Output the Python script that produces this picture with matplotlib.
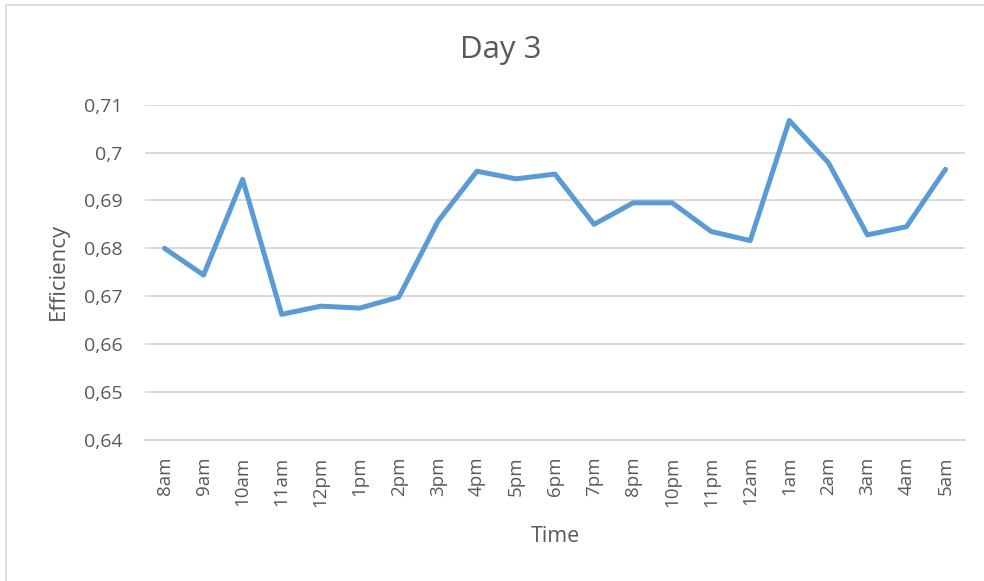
import numpy as np
import matplotlib
matplotlib.use("Agg")
import matplotlib.pyplot as plt
from matplotlib.patches import Rectangle
from matplotlib.ticker import FuncFormatter

plt.rcParams['font.family'] = ['Open Sans', 'DejaVu Sans']

# data
times = ["8am", "9am", "10am", "11am", "12pm", "1pm", "2pm", "3pm", "4pm", "5pm",
         "6pm", "7pm", "8pm", "10pm", "11pm", "12am", "1am", "2am", "3am", "4am", "5am"]
efficiency = [0.6800, 0.6744, 0.6944, 0.6662, 0.6679, 0.6675, 0.6698, 0.6856, 0.6961, 0.6945,
              0.6955, 0.6850, 0.6895, 0.6895, 0.6835, 0.6816, 0.7067, 0.6979, 0.6828, 0.6845,
              0.6965]
yticks = [0.64, 0.65, 0.66, 0.67, 0.68, 0.69, 0.70, 0.71]

txt = "#595959"
grid = "#d9d9d9"

fig = plt.figure(figsize=(9.84, 5.81), dpi=100)
ax = fig.add_axes([145/984, 1-439.7/581, 820/984, 335/581])

x = np.arange(len(times))
ax.plot(x, efficiency, color="#5B9BD5", lw=3.6, solid_joinstyle="round",
        solid_capstyle="round", zorder=3)

ax.set_xlim(-0.5, len(times)-0.5)
ax.set_ylim(0.64, 0.71)
ax.set_yticks(yticks)
ax.yaxis.set_major_formatter(FuncFormatter(lambda v, p: ("%g" % round(v, 2)).replace(".", ",")))
ax.set_xticks(x)
ax.set_xticklabels(times, rotation=90, va="top", ha="center")
ax.tick_params(axis="y", length=0, colors=txt, labelsize=14, pad=16)
ax.tick_params(axis="x", length=0, colors=txt, labelsize=13.5, pad=12)
ax.grid(axis="y", color=grid, lw=1.4)
ax.set_axisbelow(True)
for s in ["top", "right", "left"]:
    ax.spines[s].set_visible(False)
ax.spines["bottom"].set_color(grid)
ax.spines["bottom"].set_linewidth(1.4)

fig.text(555/984, 1-537/581, "Time", ha="center", va="center", color=txt, fontsize=15.5)
fig.text(58/984, 1-272/581, "Efficiency", ha="center", va="center", rotation=90,
         color=txt, fontsize=16)
fig.text(501/984, 1-50/581, "Day 3", ha="center", va="center", color=txt, fontsize=22.5)

# chart frame
fig.patches.append(Rectangle((6/984, -0.1), 1.1, 1.1-5/581, transform=fig.transFigure,
                             fill=False, ec=grid, lw=1.3))

fig.savefig("out.png", dpi=100)
